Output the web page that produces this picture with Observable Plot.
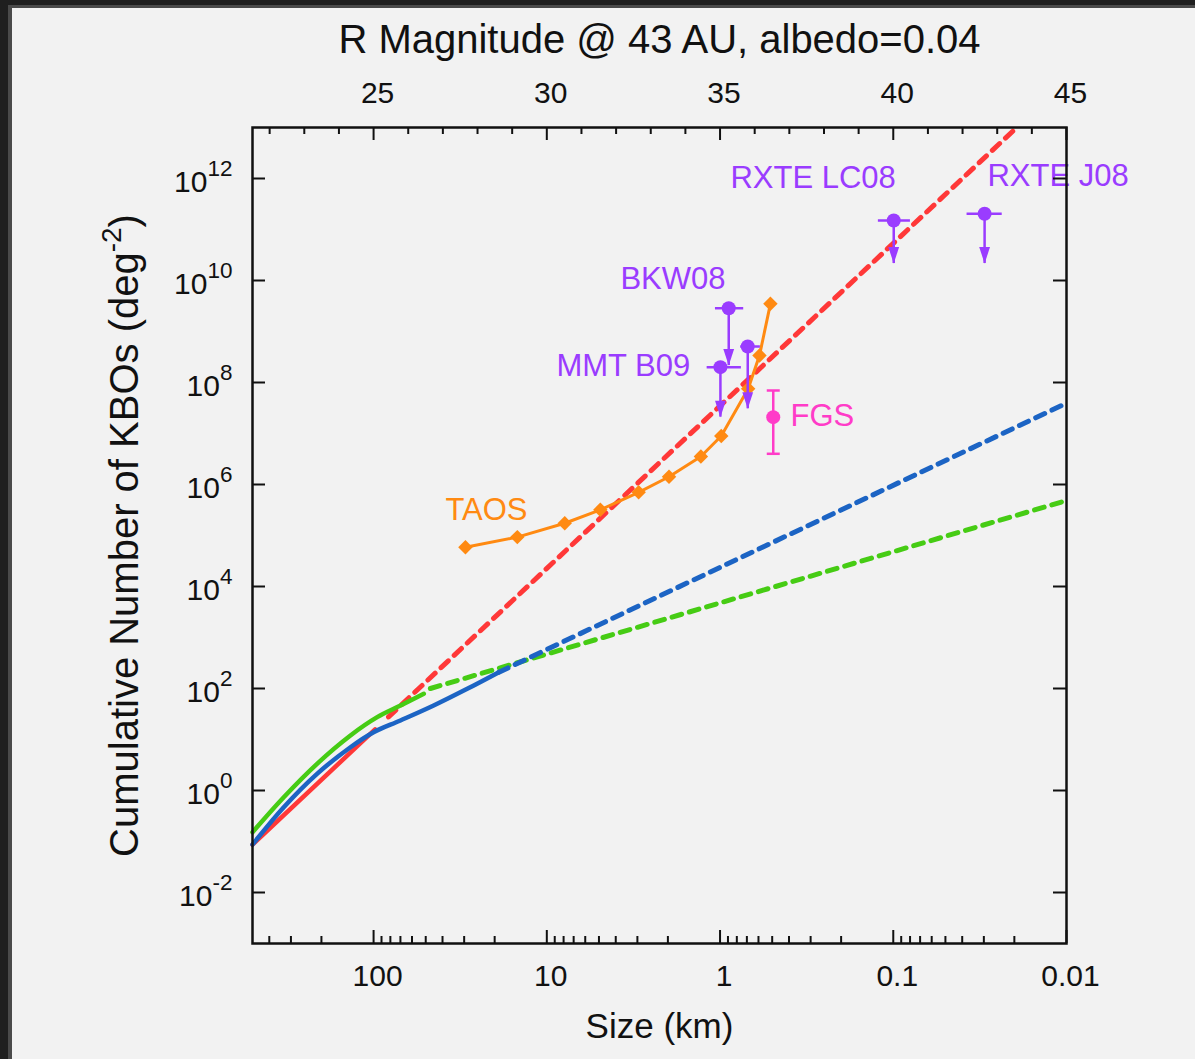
<!DOCTYPE html>
<html><head><meta charset="utf-8">
<script src="https://cdn.jsdelivr.net/npm/d3@7"></script>
<script src="https://cdn.jsdelivr.net/npm/@observablehq/plot@0.6"></script>
<style>
html,body{margin:0;padding:0;background:#1f1f1f;}
#wrap{position:relative;width:1195px;height:1059px;overflow:hidden;background:#1f1f1f;}
#b1{position:absolute;left:8px;top:5px;right:0;bottom:0;background:#4a4a4a;}
#b2{position:absolute;left:12px;top:8px;right:0;bottom:0;background:#f2f2f2;}
#chart{position:absolute;left:0;top:0;}
</style></head><body>
<div id="wrap"><div id="b1"></div><div id="b2"></div><div id="chart"></div></div>
<script>
// ---------- DATA (size in km, cumulative number per deg^2) ----------
const redSolidSize = [500, 98];
const redSolidN    = [0.087, 15.8];
const redDashSize  = [82, 0.0197];
const redDashN     = [27.7, 9.5e12];

const blueSolidSize = [500, 330, 212, 136, 100, 70, 45, 28.8, 18.9];
const blueSolidN    = [0.087, 0.47, 2.12, 7.06, 13.9, 23.6, 46.4, 98.6, 209];
const blueDashSize  = [18.9, 0.01];
const blueDashN     = [209, 3.93e7];

const greenSolidSize = [500, 330, 212, 136, 95.3, 69.9, 51.3];
const greenSolidN    = [0.152, 0.74, 3.34, 12.0, 27.4, 46.4, 78.7];
const greenDashSize  = [47, 0.01];
const greenDashN     = [100, 4.85e5];

const taosSize = [29.5, 14.8, 7.88, 4.91, 2.95, 1.97, 1.29, 0.984, 0.688, 0.592, 0.512];
const taosN    = [5.9e4, 9.3e4, 1.74e5, 3.19e5, 7.03e5, 1.42e6, 3.54e6, 8.93e6, 7.52e7, 3.38e8, 3.49e9];

// upper limits (purple)
const limName  = ["BKW08", "MMT B09", "BKW08", "RXTE LC08", "RXTE J08"];
const limSize  = [0.891, 0.995, 0.692, 0.0994, 0.0297];
const limN     = [2.86e9, 2.0e8, 5.08e8, 1.5e11, 2.03e11];
const limTipN  = [2.15e8, 2.09e7, 3.05e7, 2.15e10, 2.15e10];
const limSizeHi = [1.063, 1.187, 0.760, 0.1219, 0.0375];
const limSizeLo = [0.730, 0.753, 0.585, 0.0796, 0.0235];

// FGS detection (magenta)
const fgsSize = [0.493];
const fgsN    = [2.09e7];
const fgsLo   = [4.0e6];
const fgsHi   = [6.97e7];

// annotations
const labelText = ["RXTE LC08", "RXTE J08", "BKW08", "MMT B09", "FGS", "TAOS"];
const labelSize = [0.871, 0.0286, 3.76, 8.80, 0.392, 38.5];
const labelN    = [1.0e12, 1.1e12, 1.05e10, 2.06e8, 2.15e7, 3.09e5];
const labelKind = ["limit", "limit", "limit", "limit", "fgs", "taos"];

// axes
const sizeMajor = [100, 10, 1, 0.1, 0.01];
const sizeMinorMult = [2, 3, 4, 5, 6, 7, 8, 9];
const magMajor = [25, 30, 35, 40, 45];
const magAll = [22,23,24,25,26,27,28,29,30,31,32,33,34,35,36,37,38,39,40,41,42,43,44,45];
const yTickExp = [-2, 0, 2, 4, 6, 8, 10, 12];

// ---------- BUILD ----------
const zip = (xs, ys) => xs.map((x, i) => ({x, y: ys[i]}));
const magToSize = m => 100 * Math.pow(10, (25 - m) / 5);
const sizeMinor = [];
for (const dec of [100, 10, 1, 0.1, 0.01]) for (const k of sizeMinorMult) { const v = dec * k; if (v < 500) sizeMinor.push(v); }
const magMinor = magAll.filter(m => !magMajor.includes(m));
const yTicks = yTickExp.map(e => Math.pow(10, e));

const limits = limName.map((n, i) => ({name: n, x: limSize[i], y: limN[i], tip: limTipN[i], hi: limSizeHi[i], lo: limSizeLo[i]}));
const fgs = fgsSize.map((s, i) => ({x: s, y: fgsN[i], lo: fgsLo[i], hi: fgsHi[i]}));
const labels = labelText.map((t, i) => ({t, x: labelSize[i], y: labelN[i], k: labelKind[i]}));

const purple = "#9a3cff", magenta = "#ff3cc8", orange = "#ff8a12", red = "#ff3838", blue = "#1c64c4", green = "#46cc14";
const labelColor = {limit: purple, fgs: magenta, taos: orange};
const font = "'Liberation Sans', Arial, Helvetica, sans-serif";
const ink = "#111";
const FH = 816, FW = 814;

const arrowDown = {draw(ctx, size) { const r = Math.sqrt(size / Math.PI); const h = r * 2.2, w = r * 0.72; ctx.moveTo(0, 0); ctx.lineTo(-w, -h); ctx.lineTo(w, -h); ctx.closePath(); }};
const hbar = {draw(ctx, size) { const r = Math.sqrt(size / Math.PI); ctx.moveTo(-r, 0); ctx.lineTo(r, 0); }};

const dash = "10,8";
const LW = 4.5, DW = 5;

const plot = Plot.plot({
  width: 1195, height: 1059,
  marginLeft: 252, marginRight: 129, marginTop: 127, marginBottom: 116,
  style: {background: "transparent", fontFamily: font, overflow: "visible"},
  x: {type: "log", domain: [500, 0.01], axis: null},
  y: {type: "log", domain: [1e-3, 1e13], axis: null},
  marks: [
    // model curves
    Plot.line(zip(redSolidSize, redSolidN), {x: "x", y: "y", stroke: red, strokeWidth: LW}),
    Plot.line(zip(redDashSize, redDashN), {x: "x", y: "y", stroke: red, strokeWidth: DW, strokeDasharray: dash}),
    Plot.line(zip(greenSolidSize, greenSolidN), {x: "x", y: "y", stroke: green, strokeWidth: LW, curve: "catmull-rom"}),
    Plot.line(zip(greenDashSize, greenDashN), {x: "x", y: "y", stroke: green, strokeWidth: DW, strokeDasharray: dash}),
    Plot.line(zip(blueSolidSize, blueSolidN), {x: "x", y: "y", stroke: blue, strokeWidth: LW, curve: "catmull-rom"}),
    Plot.line(zip(blueDashSize, blueDashN), {x: "x", y: "y", stroke: blue, strokeWidth: DW, strokeDasharray: dash}),
    // TAOS
    Plot.line(zip(taosSize, taosN), {x: "x", y: "y", stroke: orange, strokeWidth: 3}),
    Plot.dot(zip(taosSize, taosN), {x: "x", y: "y", symbol: "diamond2", r: 6.5, fill: orange}),
    // upper limits
    Plot.ruleY(limits, {y: "y", x1: "hi", x2: "lo", stroke: purple, strokeWidth: 2.5}),
    Plot.ruleX(limits, {x: "x", y1: "y", y2: "tip", stroke: purple, strokeWidth: 2.5}),
    Plot.dot(limits, {x: "x", y: "tip", symbol: arrowDown, r: 7.5, fill: purple, stroke: "none"}),
    Plot.dot(limits, {x: "x", y: "y", r: 7, fill: purple, stroke: "none"}),
    // FGS
    Plot.ruleX(fgs, {x: "x", y1: "lo", y2: "hi", stroke: magenta, strokeWidth: 2.5}),
    Plot.dot(fgs, {x: "x", y: "lo", symbol: hbar, r: 6.5, stroke: magenta, strokeWidth: 2.5, fill: "none"}),
    Plot.dot(fgs, {x: "x", y: "hi", symbol: hbar, r: 6.5, stroke: magenta, strokeWidth: 2.5, fill: "none"}),
    Plot.dot(fgs, {x: "x", y: "y", r: 7, fill: magenta, stroke: "none"}),
    // annotations
    Plot.text(labels, {x: "x", y: "y", text: "t", fill: d => labelColor[d.k], textAnchor: "start", lineAnchor: "middle", fontSize: 31}),
    // frame & ticks
    Plot.frame({stroke: ink, strokeWidth: 2.5}),
    Plot.ruleX(sizeMajor, {x: d => d, insetTop: FH - 13, stroke: ink, strokeWidth: 2}),
    Plot.ruleX(sizeMinor, {x: d => d, insetTop: FH - 7, stroke: ink, strokeWidth: 2}),
    Plot.ruleX(magMajor, {x: m => magToSize(m), insetBottom: FH - 13, stroke: ink, strokeWidth: 2}),
    Plot.ruleX(magMinor, {x: m => magToSize(m), insetBottom: FH - 7, stroke: ink, strokeWidth: 2}),
    Plot.ruleY(yTicks, {y: d => d, insetRight: FW - 13, stroke: ink, strokeWidth: 2}),
    Plot.ruleY(yTicks, {y: d => d, insetLeft: FW - 13, stroke: ink, strokeWidth: 2}),
    // tick labels
    Plot.text(sizeMajor, {x: d => d, text: d => String(d), frameAnchor: "bottom", lineAnchor: "middle", dx: 4, dy: 33, fontSize: 30, fill: ink}),
    Plot.text(magMajor, {x: m => magToSize(m), text: m => String(m), frameAnchor: "top", lineAnchor: "middle", dx: 4, dy: -34, fontSize: 30, fill: ink}),
    Plot.text(yTicks, {y: d => d, text: (d, i) => "10^" + yTickExp[i], frameAnchor: "left", textAnchor: "end", lineAnchor: "middle", dx: -20, dy: 4, fontSize: 30, fill: ink}),
    // axis titles
    Plot.text(["Size (km)"], {text: d => d, frameAnchor: "bottom", textAnchor: "middle", lineAnchor: "middle", dy: 83, fontSize: 35, fill: ink}),
    Plot.text(["R Magnitude @ 43 AU, albedo=0.04"], {text: d => d, frameAnchor: "top", textAnchor: "middle", lineAnchor: "middle", dy: -87, fontSize: 40, fill: ink}),
    Plot.text(["Cumulative Number of KBOs (deg^-2)"], {text: d => d, frameAnchor: "left", textAnchor: "middle", lineAnchor: "middle", rotate: -90, dx: -127, fontSize: 40, fill: ink})
  ]
});

// superscripts
const NS = "http://www.w3.org/2000/svg";
plot.querySelectorAll("text").forEach(t => {
  const m = /^(.*?)\^(-?\d+)(.*)$/.exec(t.textContent);
  if (!m) return;
  const isTick = m[1] === "10";
  const supSize = isTick ? 22.5 : 28;
  const shift = isTick ? 16 : 17;
  while (t.firstChild) t.removeChild(t.firstChild);
  const a = document.createElementNS(NS, "tspan"); a.textContent = m[1]; t.appendChild(a);
  const b = document.createElementNS(NS, "tspan"); b.textContent = m[2];
  b.setAttribute("font-size", supSize); b.setAttribute("dy", -shift); t.appendChild(b);
  if (m[3]) { const c = document.createElementNS(NS, "tspan"); c.textContent = m[3]; c.setAttribute("dy", shift); t.appendChild(c); }
});

document.getElementById("chart").appendChild(plot);
</script></body></html>
